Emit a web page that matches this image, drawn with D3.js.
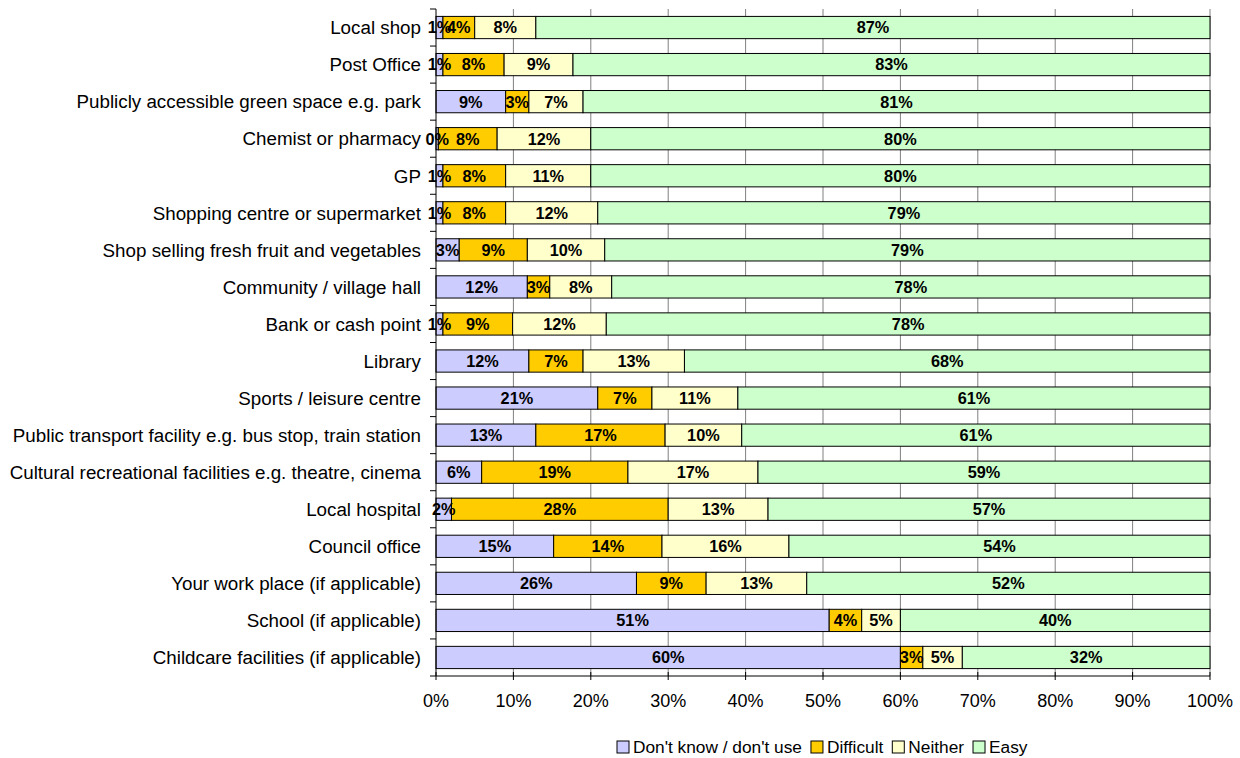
<!DOCTYPE html>
<html>
<head>
<meta charset="utf-8">
<script src="https://cdn.jsdelivr.net/npm/d3@7"></script>
<style>
    body { margin: 0; background: #fff; }
    text { font-family: Arial, "Liberation Sans", sans-serif; }
</style>
</head>
<body>
<div id="div-chart"></div>
<script>
var categories = [
    "Local shop",
    "Post Office",
    "Publicly accessible green space e.g. park",
    "Chemist or pharmacy",
    "GP",
    "Shopping centre or supermarket",
    "Shop selling fresh fruit and vegetables",
    "Community / village hall",
    "Bank or cash point",
    "Library",
    "Sports / leisure centre",
    "Public transport facility e.g. bus stop, train station",
    "Cultural recreational facilities e.g. theatre, cinema",
    "Local hospital",
    "Council office",
    "Your work place (if applicable)",
    "School (if applicable)",
    "Childcare facilities (if applicable)"
];

var dontKnow  = [0.9, 0.9, 9.0, 0.3, 0.9, 0.9, 3.0, 11.8, 0.9, 12.0, 20.9, 12.9, 5.9, 2.0, 15.2, 25.9, 50.8, 60.0];
var difficult = [4.1, 7.9, 3.0, 7.6, 8.1, 8.1, 8.8, 2.9, 9.0, 7.0, 7.0, 16.7, 18.9, 28.0, 14.0, 9.0, 4.2, 2.9];
var neither   = [7.9, 8.9, 7.0, 12.1, 11.0, 11.9, 10.0, 8.0, 12.1, 13.1, 11.1, 9.9, 16.8, 12.9, 16.4, 13.0, 5.0, 5.1];
var easy      = [87.1, 82.5, 81.0, 80.0, 80.0, 79.1, 78.6, 77.5, 78.0, 67.9, 61.0, 60.5, 58.5, 57.1, 54.4, 52.1, 40.0, 32.0];

var seriesNames = ["Don't know / don't use", "Difficult", "Neither", "Easy"];
var seriesColors = ["#ccccff", "#ffcc00", "#ffffcc", "#ccffcc"];
var xTicks = [0, 10, 20, 30, 40, 50, 60, 70, 80, 90, 100];

var width = 1240,
    height = 758;
var plot = {left: 436, right: 1210, top: 9, bottom: 676};

// rows for the stack layout
var table = categories.map(function(c, i)
{
    var row = {category: c};
    row[seriesNames[0]] = dontKnow[i];
    row[seriesNames[1]] = difficult[i];
    row[seriesNames[2]] = neither[i];
    row[seriesNames[3]] = easy[i];
    return row;
});

var stacked = d3.stack().keys(seriesNames)(table);

var x = d3.scaleLinear()
    .domain([0, 100])
    .range([plot.left, plot.right])
    .clamp(true);

var y = d3.scaleBand()
    .domain(categories)
    .range([plot.top, plot.bottom])
    .paddingInner(0.4)
    .paddingOuter(0.2);

var color = d3.scaleOrdinal()
    .domain(seriesNames)
    .range(seriesColors);

var svg = d3.select("#div-chart").append("svg")
    .attr("width", width)
    .attr("height", height);

// vertical gridlines
svg.append("g")
    .selectAll("line")
    .data(xTicks.slice(1))
    .enter()
    .append("line")
    .attr("x1", function(d) { return x(d); })
    .attr("x2", function(d) { return x(d); })
    .attr("y1", plot.top)
    .attr("y2", plot.bottom)
    .style("stroke", "#808080")
    .style("stroke-width", 1);

// bars
svg.append("g")
    .selectAll("g")
    .data(stacked)
    .enter()
    .append("g")
    .style("fill", function(d) { return color(d.key); })
    .selectAll("rect")
    .data(function(d) { return d; })
    .enter()
    .append("rect")
    .attr("x", function(d) { return x(d[0]); })
    .attr("y", function(d) { return y(d.data.category); })
    .attr("width", function(d) { return x(d[1]) - x(d[0]); })
    .attr("height", y.bandwidth())
    .style("stroke", "#000")
    .style("stroke-width", 1);

// value labels, on top of every bar
svg.append("g")
    .selectAll("g")
    .data(stacked)
    .enter()
    .append("g")
    .selectAll("text")
    .data(function(d)
    {
        return d.map(function(p) { return {p: p, value: p.data[d.key]}; });
    })
    .enter()
    .append("text")
    .attr("x", function(d) { return (x(d.p[0]) + x(d.p[1])) / 2; })
    .attr("y", function(d) { return y(d.p.data.category) + y.bandwidth() / 2; })
    .attr("dy", "0.36em")
    .attr("text-anchor", "middle")
    .style("font-size", "16.3px")
    .style("font-weight", "bold")
    .style("fill", "#000")
    .text(function(d) { return Math.round(d.value) + "%"; });

// y axis
var yAxis = svg.append("g");
yAxis.append("line")
    .attr("x1", plot.left).attr("x2", plot.left)
    .attr("y1", plot.top).attr("y2", plot.bottom)
    .style("stroke", "#000");

yAxis.selectAll("line.tick")
    .data(d3.range(categories.length + 1))
    .enter()
    .append("line")
    .attr("class", "tick")
    .attr("x1", plot.left - 6).attr("x2", plot.left)
    .attr("y1", function(i) { return plot.top + i * y.step(); })
    .attr("y2", function(i) { return plot.top + i * y.step(); })
    .style("stroke", "#000");

yAxis.selectAll("text")
    .data(categories)
    .enter()
    .append("text")
    .attr("x", plot.left - 15)
    .attr("y", function(d) { return y(d) + y.bandwidth() / 2; })
    .attr("dy", "0.36em")
    .attr("text-anchor", "end")
    .style("font-size", "18.8px")
    .style("fill", "#000")
    .text(function(d) { return d; });

// x axis
var xAxis = svg.append("g");
xAxis.append("line")
    .attr("x1", plot.left).attr("x2", plot.right)
    .attr("y1", plot.bottom).attr("y2", plot.bottom)
    .style("stroke", "#000");

xAxis.selectAll("line.tick")
    .data(xTicks)
    .enter()
    .append("line")
    .attr("class", "tick")
    .attr("x1", function(d) { return x(d); })
    .attr("x2", function(d) { return x(d); })
    .attr("y1", plot.bottom - 4)
    .attr("y2", plot.bottom + 4)
    .style("stroke", "#000");

xAxis.selectAll("text")
    .data(xTicks)
    .enter()
    .append("text")
    .attr("x", function(d) { return x(d); })
    .attr("y", 701)
    .attr("dy", "0.36em")
    .attr("text-anchor", "middle")
    .style("font-size", "18px")
    .style("fill", "#000")
    .text(function(d) { return d + "%"; });

// legend
var legend = svg.append("g");
var lx = 617;
seriesNames.forEach(function(name, i)
{
    legend.append("rect")
        .attr("x", lx)
        .attr("y", 741)
        .attr("width", 12)
        .attr("height", 12)
        .style("fill", seriesColors[i])
        .style("stroke", "#000");

    var t = legend.append("text")
        .attr("x", lx + 16)
        .attr("y", 747)
        .attr("dy", "0.36em")
        .style("font-size", "17.3px")
        .style("fill", "#000")
        .text(name);

    lx += 16 + t.node().getComputedTextLength() + 9;
});
</script>
</body>
</html>
